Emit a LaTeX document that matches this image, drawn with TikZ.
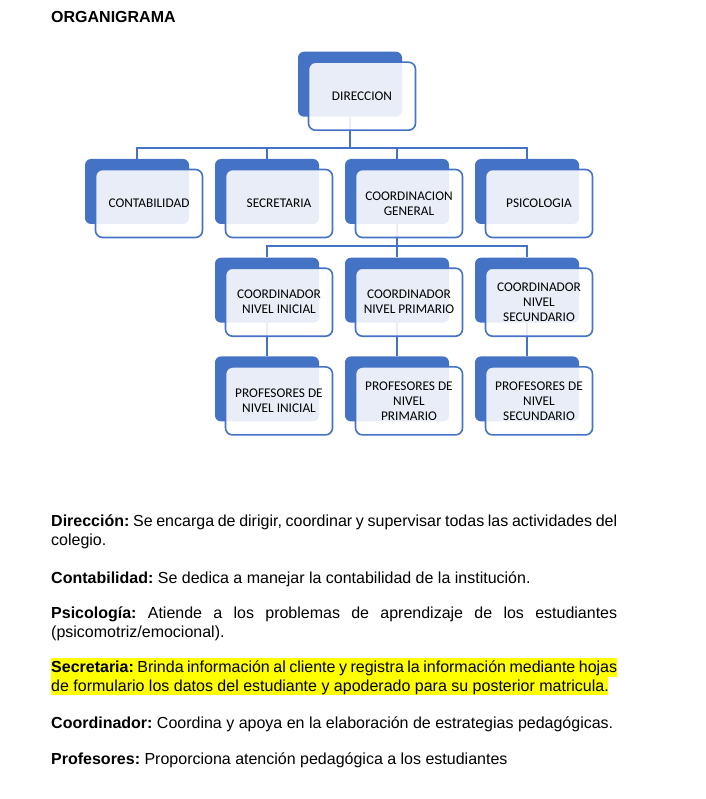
\documentclass[tikz,border=0pt]{standalone}
\usepackage{fontspec}
\setmainfont{Liberation Sans}
\newfontfamily\boxfont{Carlito}
\definecolor{orgblue}{HTML}{4472C4}
\definecolor{hilite}{HTML}{FFFF00}
\hyphenpenalty=10000
\frenchspacing

\begin{document}
\begin{tikzpicture}[x=1pt,y=-1pt,node distance=130pt,
    back/.style={fill=orgblue,rounded corners=6pt,minimum width=104pt,minimum height=65pt,inner sep=0pt},
    front/.style={draw=orgblue,line width=1.6pt,fill=white,fill opacity=0.88,text opacity=1,rounded corners=7pt,
      minimum width=107pt,minimum height=68pt,inner sep=0pt,align=center,font=\boxfont\fontsize{13.3}{15}\selectfont},
    conn/.style={draw=orgblue,line width=2pt},
    para/.style={anchor=base west,inner sep=0pt,text width=566pt,align=justify,
      font=\fontsize{16}{19}\selectfont}]
    \useasboundingbox (0,0) rectangle (705,799);
    \node[anchor=base west,inner sep=0pt,font=\bfseries\fontsize{16}{19}\selectfont] (title) at (51,22.5) {ORGANIGRAMA};
    % back boxes
    \node[back] (dirB)   at (350,84.2) {};
    \node[back] (contB)  at (137,191.5) {};
    \node[back] (secB)   [right of=contB]  {};
    \node[back] (coordB) [right of=secB]   {};
    \node[back] (psiB)   [right of=coordB] {};
    \node[back] (ciB) [node distance=98.7pt,below of=secB]   {};
    \node[back] (cpB) [node distance=98.7pt,below of=coordB] {};
    \node[back] (csB) [node distance=98.7pt,below of=psiB]   {};
    \node[back] (piB) [node distance=98.7pt,below of=ciB] {};
    \node[back] (ppB) [node distance=98.7pt,below of=cpB] {};
    \node[back] (psB) [node distance=98.7pt,below of=csB] {};
    % connectors
    \draw[conn] (dirB.south) -- ++(0,31.3) coordinate (busA) -| (contB.north);
    \draw[conn] (busA) -| (secB.north)
                (busA) -| (coordB.north)
                (busA) -| (psiB.north);
    \draw[conn] (coordB.south) -- ++(0,22) coordinate (busB) -| (ciB.north);
    \draw[conn] (busB) -| (cpB.north)
                (busB) -| (csB.north);
    \draw[conn] (ciB.south) -- (piB.north);
    \draw[conn] (cpB.south) -- (ppB.north);
    \draw[conn] (csB.south) -- (psB.north);
    % front boxes
    \node[front] (dir)   at ([shift={(12,12)}]dirB.center)   {DIRECCION};
    \node[front] (cont)  at ([shift={(12,12)}]contB.center)  {CONTABILIDAD};
    \node[front] (sec)   at ([shift={(12,12)}]secB.center)   {SECRETARIA};
    \node[front] (coord) at ([shift={(12,12)}]coordB.center) {COORDINACION\\GENERAL};
    \node[front] (psi)   at ([shift={(12,12)}]psiB.center)   {PSICOLOGIA};
    \node[front] (ci) at ([shift={(12,12)}]ciB.center) {COORDINADOR\\NIVEL INICIAL};
    \node[front] (cp) at ([shift={(12,12)}]cpB.center) {COORDINADOR\\NIVEL PRIMARIO};
    \node[front] (cs) at ([shift={(12,12)}]csB.center) {COORDINADOR\\NIVEL\\SECUNDARIO};
    \node[front] (pi) at ([shift={(12,12)}]piB.center) {PROFESORES DE\\NIVEL INICIAL};
    \node[front] (pp) at ([shift={(12,12)}]ppB.center) {PROFESORES DE\\NIVEL\\PRIMARIO};
    \node[front] (ps) at ([shift={(12,12)}]psB.center) {PROFESORES DE\\NIVEL\\SECUNDARIO};
    % descriptions
    \fill[hilite] (51,658) rectangle (617,676.5);
    \fill[hilite] (51,676.5) rectangle (608,695);
    \node[para] (pDir) at (51,526) {\textbf{Dirección:} Se encarga de dirigir, coordinar y supervisar todas las actividades del\linebreak colegio.};
    \node[para] (pCont) at (51,583.3) {\textbf{Contabilidad:} Se dedica a manejar la contabilidad de la institución.};
    \node[para] (pPsi) at (51,618.3) {\textbf{Psicología:} Atiende a los problemas de aprendizaje de los estudiantes\linebreak (psicomotriz/emocional).};
    \node[para] (pSec) at (51,672.3) {\textbf{Secretaria:} Brinda información al cliente y registra la información mediante hojas\linebreak de formulario los datos del estudiante y apoderado para su posterior matricula.};
    \node[para] (pCoord) at (51,728.3) {\textbf{Coordinador:} Coordina y apoya en la elaboración de estrategias pedagógicas.};
    \node[para] (pProf) at (51,764) {\textbf{Profesores:} Proporciona atención pedagógica a los estudiantes};
\end{tikzpicture}
\end{document}
